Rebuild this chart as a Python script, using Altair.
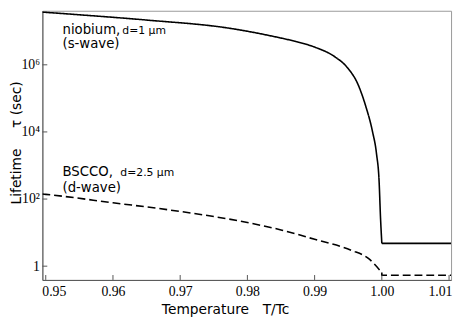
import altair as alt
import pandas as pd

# niobium (s-wave), solid: smooth part
nb_T = [0.9495, 0.955, 0.9652, 0.9773, 0.9847, 0.9871, 0.9901, 0.9930, 0.9949,
        0.9964, 0.9976, 0.9986, 0.9992, 0.9996, 0.9998, 1.0]
nb_log = [7.57, 7.49, 7.33, 7.09, 6.81, 6.70, 6.52, 6.24, 5.91,
          5.44, 4.77, 4.02, 3.36, 2.50, 1.46, 0.68]
# niobium flat tail above Tc
nb_tail_T = [1.0, 1.0103]
nb_tail_log = [0.68, 0.68]

# BSCCO (d-wave), dashed: smooth part
bs_T = [0.9495, 0.95, 0.96, 0.97, 0.98, 0.985, 0.99, 0.9955, 0.998, 1.0]
bs_log = [2.15, 2.14, 1.89, 1.63, 1.30, 1.08, 0.80, 0.47, 0.23, -0.19]
# BSCCO tail above Tc
bs_tail_T = [1.0, 1.0, 1.0103]
bs_tail_log = [-0.19, -0.27, -0.27]

x_ticks = [0.95, 0.96, 0.97, 0.98, 0.99, 1.00, 1.01]
y_ticks = [1, 1e2, 1e4, 1e6]


def frame(series, T, logs):
    return pd.DataFrame({"series": series, "T": T, "tau": [10 ** v for v in logs],
                         "i": list(range(len(T)))})


curves = pd.concat([frame("niobium", nb_T, nb_log), frame("BSCCO", bs_T, bs_log)])
tails = pd.concat([frame("niobium", nb_tail_T, nb_tail_log),
                   frame("BSCCO", bs_tail_T, bs_tail_log)])

xs = alt.Scale(domain=[0.9495, 1.0103], nice=False, zero=False)
ys = alt.Scale(type="log", domain=[10 ** -0.41, 10 ** 7.61], nice=False)
dash = alt.StrokeDash("series:N", scale=alt.Scale(domain=["niobium", "BSCCO"],
                                                  range=[[1, 0], [8, 4]]), legend=None)

x_axis = alt.Axis(values=x_ticks, format=".2f", title="Temperature\u2002\u2002T/Tc",
                  labelFont="Liberation Serif", labelFontSize=14, labelColor="black",
                  labelAlign={"expr": "datum.value < 0.955 ? 'left' : datum.value > 1.005 ? 'right' : 'center'"},
                  labelOffset={"expr": "datum.value < 0.955 ? -4 : datum.value > 1.005 ? 3 : 0"},
                  titleFont="DejaVu Sans", titleFontSize=14, titleFontWeight="normal",
                  titleColor="black", titleX=186, titleY=34, titleBaseline="alphabetic",
                  ticks=False, grid=False, domainColor="#555", labelPadding=5)
y_axis = alt.Axis(values=y_ticks, title="Lifetime\u2002\u2002\u2002\u03c4 (sec)",
                  labelExpr="datum.value == 1 ? '1' : datum.value == 100 ? '10\u00b2' : datum.value == 10000 ? '10\u2074' : '10\u2076'",
                  labelFont="Liberation Serif", labelFontSize=14, labelColor="black",
                  titleFont="DejaVu Sans", titleFontSize=14, titleFontWeight="normal",
                  titleColor="black", titleX=-26, titleY=134, titleBaseline="middle",
                  ticks=False, grid=False, domainColor="#555", labelPadding=3)

lines = alt.Chart(curves).mark_line(color="black", strokeWidth=1.6, clip=True,
                                    interpolate="monotone").encode(
    x=alt.X("T:Q", scale=xs, axis=x_axis),
    y=alt.Y("tau:Q", scale=ys, axis=y_axis),
    strokeDash=dash,
    detail="series:N",
    order="i:Q",
)

tail_lines = alt.Chart(tails).mark_line(color="black", strokeWidth=1.6, clip=True).encode(
    x=alt.X("T:Q", scale=xs),
    y=alt.Y("tau:Q", scale=ys),
    strokeDash=dash,
    detail="series:N",
    order="i:Q",
)

# inward tick marks
xt = alt.Chart(pd.DataFrame({"T": x_ticks})).mark_rule(color="#555", strokeWidth=1).encode(
    x=alt.X("T:Q", scale=xs), y=alt.value(274), y2=alt.value(269))
yt = alt.Chart(pd.DataFrame({"tau": y_ticks})).mark_rule(color="#555", strokeWidth=1).encode(
    y=alt.Y("tau:Q", scale=ys), x=alt.value(0), x2=alt.value(5))

ann_text = ["niobium,", "d=1 \u03bcm", "(s-wave)", "BSCCO,", "d=2.5 \u03bcm", "(d-wave)"]
ann_T = [0.95249, 0.96140, 0.95249, 0.95249, 0.96110, 0.95249]
ann_log = [6.93, 6.93, 6.50, 2.70, 2.70, 2.22]
ann_size = [13.5, 11, 13.5, 13.5, 11, 13.5]
ann = pd.DataFrame({"text": ann_text, "T": ann_T, "tau": [10 ** v for v in ann_log],
                    "size": ann_size})

texts = alt.Chart(ann).mark_text(align="left", baseline="alphabetic", font="DejaVu Sans",
                                 color="black").encode(
    x=alt.X("T:Q", scale=xs),
    y=alt.Y("tau:Q", scale=ys),
    text="text:N",
    size=alt.Size("size:Q", scale=None, legend=None),
)

chart = alt.layer(lines, tail_lines, xt, yt, texts).properties(
    width=416, height=274,
    autosize=alt.AutoSizeParams(type="none"),
    padding={"left": 35, "top": 0, "right": 4, "bottom": 40},
).configure_view(stroke="#999", strokeWidth=1)

chart.save("out.html", embed_options={"renderer": "svg", "actions": False})
